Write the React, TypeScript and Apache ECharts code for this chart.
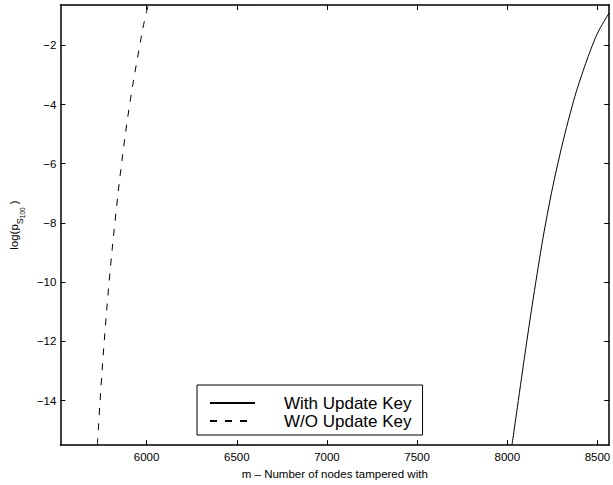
import React, { useEffect, useRef } from "react";
import * as echarts from "echarts";

// ---- data ----
const xTicks = [6000, 6500, 7000, 7500, 8000, 8500];
const yTicks = [-14, -12, -10, -8, -6, -4, -2];

const withKeyX = [8026, 8061, 8108, 8158, 8213, 8280, 8362, 8413, 8472, 8508, 8565];
const withKeyY = [-15.5, -14, -12, -10, -8, -6, -4, -3, -2, -1.5, -0.91];

const withoutKeyX = [5727, 5742, 5765, 5792, 5824, 5861, 5906, 5962, 5994, 6010];
const withoutKeyY = [-15.5, -14, -12, -10, -8, -6, -4, -2, -1, -0.64];

const seriesNames = ["With Update Key", "W/O Update Key"];
const xName = "m \u2013 Number of nodes tampered with";

const FONT = "'Liberation Sans', Arial, Helvetica, sans-serif";

const zip = (xs: number[], ys: number[]) => xs.map((x, i) => [x, ys[i]]);
const minus = (v: number | string) => String(v).replace("-", "\u2212");

export default function App() {
  const ref = useRef<HTMLDivElement>(null);

  useEffect(() => {
    if (!ref.current) return;
    const chart = echarts.init(ref.current, undefined, { renderer: "svg" });

    const axisLine = { show: true, lineStyle: { color: "#000", width: 1.5 } };
    const tickStyle = { color: "#000", width: 1 };
    const labelStyle = { color: "#000", fontSize: 11.5, fontFamily: FONT };

    chart.setOption({
      animation: false,
      backgroundColor: "#fff",
      grid: { left: 48, top: 5, right: 1, bottom: 36 },
      legend: {
        left: 197,
        top: 385,
        orient: "vertical",
        data: seriesNames,
        itemWidth: 45,
        itemHeight: 14,
        itemGap: 0,
        padding: [9, 11, 5, 12],
        borderColor: "#000",
        borderWidth: 1,
        backgroundColor: "#fff",
        itemStyle: { opacity: 0 },
        textStyle: {
          color: "#000",
          fontSize: 17,
          fontFamily: FONT,
          lineHeight: 18,
          padding: [0, 0, 0, 24],
        },
      },
      xAxis: [
        {
          type: "value",
          position: "bottom",
          min: 5522,
          max: 8565,
          axisLine,
          splitLine: { show: false },
          axisTick: { inside: true, length: 5, customValues: xTicks, lineStyle: tickStyle },
          axisLabel: { ...labelStyle, margin: 6, customValues: xTicks, formatter: (v: number) => minus(v) },
          name: xName,
          nameLocation: "middle",
          nameGap: 17,
          nameTextStyle: { color: "#000", fontSize: 11.5, fontFamily: FONT, verticalAlign: "top" },
        },
        {
          type: "value",
          position: "top",
          min: 5522,
          max: 8565,
          axisLine,
          splitLine: { show: false },
          axisTick: { inside: true, length: 5, customValues: xTicks, lineStyle: tickStyle },
          axisLabel: { show: false },
        },
      ],
      yAxis: [
        {
          type: "value",
          position: "left",
          min: -15.5,
          max: -0.64,
          axisLine,
          splitLine: { show: false },
          axisTick: { inside: true, length: 5, customValues: yTicks, lineStyle: tickStyle },
          axisLabel: { ...labelStyle, margin: 4, customValues: yTicks, formatter: (v: number) => minus(v) },
          name: "{a|log(p}{b|S}{c|100}{a| )}",
          nameLocation: "middle",
          nameRotate: 90,
          nameGap: 26,
          nameTextStyle: {
            color: "#000",
            fontFamily: FONT,
            rich: {
              a: { fontSize: 11.5, lineHeight: 12, verticalAlign: "top", color: "#000", fontFamily: FONT },
              b: { fontSize: 9, lineHeight: 9, verticalAlign: "top", padding: [7.5, 0, 0, 0], color: "#000", fontFamily: FONT },
              c: { fontSize: 6.5, lineHeight: 7, verticalAlign: "top", padding: [11, 0, 0, 0], color: "#000", fontFamily: FONT },
            },
          },
        },
        {
          type: "value",
          position: "right",
          min: -15.5,
          max: -0.64,
          axisLine,
          splitLine: { show: false },
          axisTick: { inside: true, length: 5, customValues: yTicks, lineStyle: tickStyle },
          axisLabel: { show: false },
        },
      ],
      series: [
        {
          name: seriesNames[0],
          type: "line",
          xAxisIndex: 0,
          yAxisIndex: 0,
          data: zip(withKeyX, withKeyY),
          showSymbol: false,
          symbol: "none",
          smooth: 0.4,
          lineStyle: { color: "#000", width: 1, type: "solid" },
          itemStyle: { color: "#000" },
        },
        {
          name: seriesNames[1],
          type: "line",
          xAxisIndex: 0,
          yAxisIndex: 0,
          data: zip(withoutKeyX, withoutKeyY),
          showSymbol: false,
          symbol: "none",
          smooth: 0.4,
          lineStyle: { color: "#000", width: 1, type: [7, 8] },
          itemStyle: { color: "#000" },
        },
      ],
    });

    return () => chart.dispose();
  }, []);

  return (
    <div
      ref={ref}
      style={{ position: "fixed", left: 0, top: 0, width: 613, height: 485, background: "#fff" }}
    />
  );
}
